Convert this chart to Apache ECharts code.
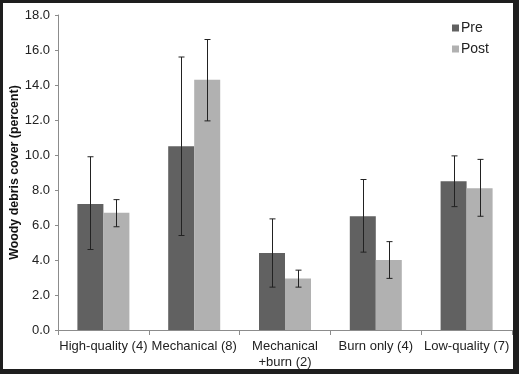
<!DOCTYPE html>
<html>
<head>
<meta charset="utf-8">
<script src="https://cdn.jsdelivr.net/npm/echarts@6/dist/echarts.min.js"></script>
<style>
  html, body { margin: 0; padding: 0; background: #1e1e1e; }
  #chart { position: absolute; left: 3px; top: 3px; width: 510px; height: 366px; background: #fff; }
</style>
</head>
<body>
<div id="chart"></div>
<script>
// categories and values
var categories = ['High-quality (4)', 'Mechanical (8)', 'Mechanical\n+burn (2)', 'Burn only (4)', 'Low-quality (7)'];
var preValues = [7.2, 10.5, 4.4, 6.5, 8.5];
var postValues = [6.7, 14.3, 2.95, 4.0, 8.1];
// error bar ends
var preLow = [4.6, 5.4, 2.45, 4.45, 7.05];
var preHigh = [9.9, 15.6, 6.35, 8.6, 9.95];
var postLow = [5.9, 11.95, 2.45, 2.95, 6.5];
var postHigh = [7.45, 16.6, 3.42, 5.05, 9.75];
var yTicks = [0, 2, 4, 6, 8, 10, 12, 14, 16, 18];

var barW = 26;

function errData(low, high) {
    var out = [];
    for (var i = 0; i < low.length; i++) {
        out.push([i, low[i], high[i]]);
    }
    return out;
}

function errRender(offset) {
    return function (params, api) {
        var lo = api.coord([api.value(0), api.value(1)]);
        var hi = api.coord([api.value(0), api.value(2)]);
        var x = Math.round(lo[0] + offset) + 0.5;
        var s = { stroke: '#222', lineWidth: 1 };
        return {
            type: 'group',
            children: [
                { type: 'line', shape: { x1: x, y1: hi[1], x2: x, y2: lo[1] }, style: s },
                { type: 'line', shape: { x1: x - 3, y1: hi[1], x2: x + 3, y2: hi[1] }, style: s },
                { type: 'line', shape: { x1: x - 3, y1: lo[1], x2: x + 3, y2: lo[1] }, style: s }
            ]
        };
    };
}

var myChart = echarts.init(document.getElementById('chart'));
myChart.setOption({
    animation: false,
    textStyle: { fontFamily: 'Liberation Sans, Arial, sans-serif' },
    legend: {
        orient: 'vertical',
        right: 19,
        top: 13,
        itemWidth: 7,
        itemHeight: 7,
        itemGap: 7,
        icon: 'rect',
        textStyle: { fontSize: 14, color: '#222', padding: [0, 0, 0, -3] },
        data: ['Pre', 'Post']
    },
    grid: { left: 55, right: 1, top: 12, bottom: 39, outerBoundsMode: 'none' },
    xAxis: {
        type: 'category',
        data: categories,
        axisLine: { lineStyle: { color: '#8c8c8c' } },
        axisTick: { show: true, length: 5, lineStyle: { color: '#8c8c8c' } },
        axisLabel: { fontSize: 13, color: '#222', margin: 8, lineHeight: 16, interval: 0 }
    },
    yAxis: {
        type: 'value',
        min: yTicks[0],
        max: yTicks[yTicks.length - 1],
        interval: 2,
        name: 'Woody debris cover (percent)',
        nameLocation: 'middle',
        nameGap: 37,
        nameMoveOverlap: false,
        nameTextStyle: { fontSize: 12.4, fontWeight: 'bold', color: '#111' },
        axisLine: { show: true, lineStyle: { color: '#8c8c8c' } },
        axisTick: { show: true, length: 3, lineStyle: { color: '#8c8c8c' } },
        splitLine: { show: false },
        axisLabel: {
            fontSize: 13, color: '#222', margin: 8,
            formatter: function (v) { return v.toFixed(1); }
        }
    },
    series: [
        {
            name: 'Pre',
            type: 'bar',
            barWidth: barW,
            barGap: '0%',
            itemStyle: { color: '#616161' },
            data: preValues
        },
        {
            name: 'Post',
            type: 'bar',
            barWidth: barW,
            barGap: '0%',
            itemStyle: { color: '#b1b1b1' },
            data: postValues
        },
        {
            type: 'custom',
            renderItem: errRender(-barW / 2),
            data: errData(preLow, preHigh),
            z: 5
        },
        {
            type: 'custom',
            renderItem: errRender(barW / 2),
            data: errData(postLow, postHigh),
            z: 5
        }
    ]
});
</script>
</body>
</html>
